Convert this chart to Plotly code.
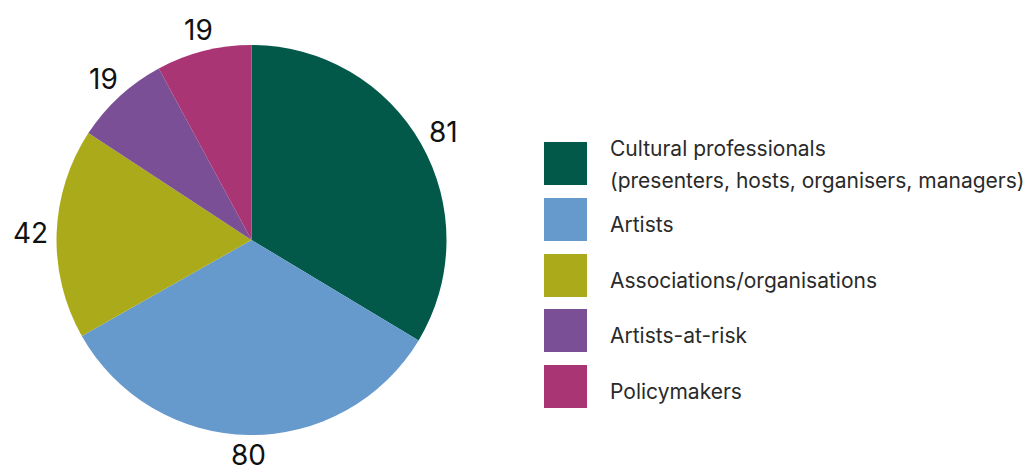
import math
import plotly.graph_objects as go

categories = [
    "Cultural professionals (presenters, hosts, organisers, managers)",
    "Artists",
    "Associations/organisations",
    "Artists-at-risk",
    "Policymakers",
]
legend_lines = [
    ["Cultural professionals", "(presenters, hosts, organisers, managers)"],
    ["Artists"],
    ["Associations/organisations"],
    ["Artists-at-risk"],
    ["Policymakers"],
]
values = [81, 80, 42, 19, 19]
colors = ["#02594A", "#6699CC", "#AAAA1A", "#7A4F96", "#A93574"]

W, H = 1030, 472

# pie placement (pixels)
cx, cy_top, R = 251.5, 240, 195
label_r = 215

fig = go.Figure()
fig.add_trace(go.Pie(
    labels=categories,
    values=values,
    sort=False,
    direction="clockwise",
    rotation=0,
    marker=dict(colors=colors, line=dict(width=0)),
    textinfo="none",
    showlegend=False,
    hoverinfo="label+value",
    domain=dict(x=[(cx - R) / W, (cx + R) / W],
                y=[(H - cy_top - R) / H, (H - cy_top + R) / H]),
))

annotations = []
shapes = []

# value labels outside each slice, at the slice's mid-angle
total = sum(values)
cum = 0
for v in values:
    mid = (cum + v / 2) / total * 2 * math.pi
    cum += v
    px = cx + (label_r + 6 * abs(math.sin(mid))) * math.sin(mid)
    py = cy_top - (label_r + 6 * abs(math.sin(mid))) * math.cos(mid)
    annotations.append(dict(
        xref="paper", yref="paper",
        x=px / W, y=(H - py) / H,
        xanchor="center", yanchor="middle",
        text=str(v), showarrow=False,
        font=dict(family="Inter", size=28, color="#111111"),
        borderpad=0,
    ))

# custom legend (large square swatches)
sw_x0, sw_x1 = 544, 587
sw_tops = [142, 198, 254, 309, 365]
sw_size = 43
for lines, col, top in zip(legend_lines, colors, sw_tops):
    shapes.append(dict(
        type="rect", xref="paper", yref="paper",
        x0=sw_x0 / W, x1=sw_x1 / W,
        y0=(H - top - sw_size) / H, y1=(H - top) / H,
        fillcolor=col, line=dict(width=0),
    ))
    if len(lines) == 1:
        centers = [top + sw_size / 2 + 5]
    else:
        centers = [top + 6, top + 38]
    for txt, ty in zip(lines, centers):
        annotations.append(dict(
            xref="paper", yref="paper",
            x=608 / W, y=(H - ty) / H,
            xanchor="left", yanchor="middle",
            text=txt, showarrow=False,
            font=dict(family="Inter", size=21, color="#2a2a2a"),
        ))

fig.update_layout(
    width=W, height=H,
    margin=dict(l=0, r=0, t=0, b=0),
    paper_bgcolor="white",
    plot_bgcolor="white",
    shapes=shapes,
    annotations=annotations,
)

fig.write_html("out.html")
